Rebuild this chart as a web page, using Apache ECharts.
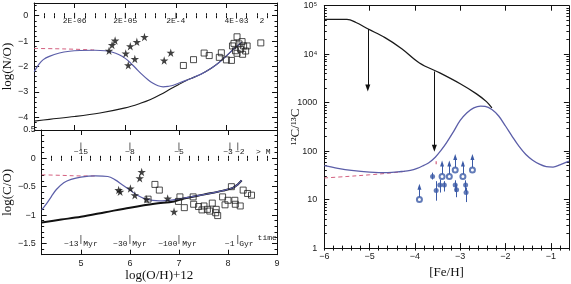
<!DOCTYPE html>
<html><head><meta charset="utf-8">
<script src="https://cdn.jsdelivr.net/npm/echarts@6/dist/echarts.min.js"></script>
<style>html,body{margin:0;padding:0;background:#fff}#c{width:571px;height:284px}</style>
</head><body><div id="c"></div>
<script>
// ================= DATA =================
// Top-left panel: log(N/O) vs log(O/H)+12
const noBlackX = [4.2,4.5,5.0,5.5,6.0,6.3,6.5,6.7,6.9,7.05,7.2,7.3,7.5,7.7,7.85,8.0,8.15,8.3];
const noBlackY = [-4.15,-4.08,-3.97,-3.83,-3.63,-3.45,-3.3,-3.1,-2.88,-2.72,-2.56,-2.47,-2.3,-2.07,-1.85,-1.58,-1.3,-1.05];
const noBlueX = [4.2,4.3,4.38,4.5,4.7,4.9,5.1,5.4,5.6,5.75,5.87,6.0,6.1,6.2,6.33,6.45,6.55,6.65,6.75,6.85,6.95,7.1,7.3,7.5,7.7,7.85,8.0,8.15,8.3];
const noBlueY = [-2.2,-1.9,-1.73,-1.6,-1.47,-1.4,-1.37,-1.36,-1.38,-1.44,-1.53,-1.68,-1.85,-2.05,-2.31,-2.52,-2.66,-2.76,-2.8,-2.78,-2.74,-2.62,-2.47,-2.3,-2.07,-1.85,-1.58,-1.3,-1.05];
const noRedX = [4.2,4.6,5.0,5.4];
const noRedY = [-1.29,-1.3,-1.32,-1.35];
const noStarX = [5.68,5.74,5.8,6.01,6.06,6.1,6.19,6.23,6.38,6.77,6.9];
const noStarY = [-1.38,-1.15,-0.98,-1.49,-1.95,-1.2,-1.7,-1.03,-0.84,-1.76,-1.46];
const noSqX = [7.15,7.35,7.56,7.66,7.86,7.9,8.0,8.1,8.12,8.15,8.18,8.21,8.21,8.25,8.28,8.31,8.32,8.34,8.38,8.41,8.68];
const noSqY = [-1.96,-1.73,-1.47,-1.57,-1.64,-1.46,-1.74,-1.76,-1.19,-1.09,-1.38,-0.83,-1.48,-1.11,-1.32,-1.02,-1.52,-1.19,-1.39,-1.19,-1.07];
const zLabels = ['2E-06','2E-05','2E-4','4E-03','2'];
const zLabelX = [5.0,6.0,7.0,8.2,8.7];
const zTickX = [5.0,6.0,7.0,8.2];

// Bottom-left panel: log(C/O) vs log(O/H)+12
const coBlackX = [4.2,4.6,5.0,5.5,6.0,6.5,6.9,7.1,7.5,7.9,8.1,8.2,8.28];
const coBlackY = [-1.13,-1.08,-1.03,-0.95,-0.87,-0.8,-0.76,-0.71,-0.64,-0.57,-0.52,-0.46,-0.39];
const coBlueX = [4.2,4.3,4.4,4.5,4.65,4.8,5.0,5.3,5.55,5.7,5.85,6.0,6.15,6.33,6.6,6.9,7.1,7.5,7.9,8.1,8.2,8.28];
const coBlueY = [-0.91,-0.8,-0.67,-0.55,-0.43,-0.37,-0.33,-0.31,-0.32,-0.38,-0.47,-0.56,-0.65,-0.72,-0.75,-0.73,-0.7,-0.64,-0.57,-0.52,-0.46,-0.39];
const coRedX = [4.2,4.6,5.0,5.3];
const coRedY = [-0.29,-0.3,-0.31,-0.31];
const coStarX = [5.77,5.8,6.01,6.1,6.2,6.24,6.34,6.77,6.9];
const coStarY = [-0.56,-0.59,-0.53,-0.65,-0.35,-0.24,-0.72,-0.71,-0.94];
const coSqX = [6.37,6.51,6.6,7.02,6.99,7.11,7.29,7.3,7.4,7.47,7.51,7.58,7.63,7.68,7.76,7.75,7.79,7.89,7.94,8.0,8.07,8.14,8.15,8.25,8.31,8.4,8.48];
const coSqY = [-0.72,-0.46,-0.56,-0.68,-0.76,-0.87,-0.68,-0.81,-0.85,-0.91,-0.84,-0.9,-0.93,-0.79,-0.9,-0.96,-1.01,-0.68,-0.82,-0.74,-0.5,-0.74,-0.81,-0.84,-0.56,-0.62,-0.65];
const massLabels = ['~15','~8','~5','~3','~2','> M'];
const massLabelX = [5.0,6.0,7.0,8.0,8.24,8.72];
const massTickX = [5.0,6.0,7.0,8.04,8.2];
const timeLabels = ['~13 Myr','~30 Myr','~100 Myr','~1 Gyr'];
const timeLabelX = [5.0,6.0,6.97,8.23];
const timeTickX = [5.0,6.0,7.0,8.2];

// Right panel: 12C/13C vs [Fe/H]
const fehBlackX = [-6,-5.5,-5.3,-5.03,-4.66,-4.29,-3.9,-3.45,-3.0,-2.64,-2.42,-2.3];
const fehBlackY = [52000,52000,45000,33000,22000,13000,6600,4100,2450,1520,1050,780];
const fehBlueX = [-6,-5.7,-5.4,-5.0,-4.6,-4.3,-4.1,-3.95,-3.8,-3.7,-3.55,-3.42,-3.3,-3.15,-3.0,-2.85,-2.7,-2.55,-2.45,-2.3,-2.15,-2.0,-1.85,-1.7,-1.55,-1.4,-1.25,-1.1,-0.95,-0.8,-0.6];
const fehBlueY = [50,44,40,37,36,38,40,44,51,57,75,105,150,250,430,620,780,850,840,720,530,330,200,125,85,65,54,48,47,52,62];
const fehRedX = [-6,-5.5,-5.0,-4.6,-4.3,-4.15];
const fehRedY = [28,30,32.5,35,37.5,39];
const arrowX = [-5.04,-3.57];
const arrowFrom = [33000,4400];
const arrowTo = [2000,115];
const limX = [-3.9,-3.4,-3.24,-3.11,-2.94,-2.73];
const limY = [10,30,30,41,30,41];
const obsX = [-3.61,-3.53,-3.45,-3.35,-3.11,-3.08,-2.88,-2.87];
const obsY = [30,15.5,20,20,20,16,20,14];
const obsLo = [26,9.5,14,14.7,14.5,11.2,15,8.9];
const obsHi = [36,24,26,24,25,20.6,25,17.7];
const redMarkX = [-3.53,-3.53];
const redMarkY = [62,49];

// Tick labels
const ohTicks = [5,6,7,8,9];
const noTicks = [0,-1,-2,-3,-4];
const coTicks = [0.5,0,-0.5,-1,-1.5];
const fehTicks = [-6,-5,-4,-3,-2,-1];
const ratioTickExp = [0,1,2,3,4,5];
const ratioTickLabels = ['1','10','100','1000','10⁴','10⁵'];

// ================= BUILD =================
const zip = (a, b) => a.map((v, i) => [v, b[i]]);
const steps = (a, b, s) => { const r = []; const n = Math.round((b - a) / s); for (let i = 0; i <= n; i++) r.push(Math.round((a + i * s) * 1e6) / 1e6); return r; };
const minus = v => String(v).replace('-', '\u2212');
const AX = '#111';
const tickFont = {fontSize: 9, fontFamily: 'Liberation Sans', color: '#222'};
const nameFont = {fontSize: 13, fontFamily: 'Liberation Serif', color: '#111'};

const xAxis = [], yAxis = [];
function group(list, isX, gridIndex, o) {
  const pm = isX ? 'bottom' : 'left', po = isX ? 'top' : 'right';
  const base = {gridIndex, type: 'value', min: o.min, max: o.max, splitLine: {show: false}};
  const idx = list.length;
  list.push(Object.assign({}, base, {
    position: pm,
    axisLine: {show: true, onZero: false, lineStyle: {color: AX, width: 1}},
    axisTick: {show: true, inside: true, length: 5, customValues: o.majors, lineStyle: {color: AX}},
    axisLabel: o.labels ? Object.assign({show: true, customValues: o.labels, formatter: o.fmt || minus, margin: o.margin}, tickFont) : {show: false},
    name: o.name || '', nameLocation: 'middle', nameGap: o.nameGap || 0, nameTextStyle: nameFont
  }));
  list.push(Object.assign({}, base, {position: pm, axisLine: {show: false}, axisLabel: {show: false},
    axisTick: {show: true, inside: true, length: 2.5, customValues: o.minors, lineStyle: {color: AX}}}));
  list.push(Object.assign({}, base, {position: po, axisLine: {show: true, onZero: false, lineStyle: {color: AX, width: 1}}, axisLabel: {show: false},
    axisTick: {show: true, inside: true, length: 5, customValues: o.majors, lineStyle: {color: AX}}}));
  list.push(Object.assign({}, base, {position: po, axisLine: {show: false}, axisLabel: {show: false},
    axisTick: {show: true, inside: true, length: 2.5, customValues: o.minors, lineStyle: {color: AX}}}));
  return idx;
}

// grid 0: N/O
const gx0 = group(xAxis, true, 0, {min: 4.2, max: 9, majors: [5,6,7,8,9], minors: steps(4.2, 9, 0.2)});
const gy0 = group(yAxis, false, 0, {min: -4.5, max: 0.5, majors: [0,-1,-2,-3,-4], minors: steps(-4.4, 0.4, 0.2), labels: noTicks, margin: 6, name: 'log(N/O)', nameGap: 18});
// grid 1: C/O
const gx1 = group(xAxis, true, 1, {min: 4.2, max: 9, majors: [5,6,7,8,9], minors: steps(4.2, 9, 0.2), labels: ohTicks, margin: 4, name: 'log(O/H)+12', nameGap: 13});
const gy1 = group(yAxis, false, 1, {min: -1.7, max: 0.5, majors: [0.5,0,-0.5,-1,-1.5], minors: steps(-1.7, 0.5, 0.1), labels: coTicks, margin: 6, name: 'log(C/O)', nameGap: 21});
// grid 2: 12C/13C
const gx2 = group(xAxis, true, 2, {min: -6, max: -0.6, majors: [-6,-5,-4,-3,-2,-1], minors: steps(-6, -0.6, 0.2), labels: fehTicks, margin: 4, name: '[Fe/H]', nameGap: 13});
// log data axis
const gy2 = yAxis.length;
yAxis.push({gridIndex: 2, type: 'log', logBase: 10, min: 1, max: 100000, position: 'left',
  axisLine: {show: true, onZero: false, lineStyle: {color: AX, width: 1}}, axisTick: {show: false}, axisLabel: {show: false}, splitLine: {show: false},
  name: '¹²C/¹³C', nameLocation: 'middle', nameGap: 22, nameTextStyle: nameFont});
const logMinors = [];
for (let e = 0; e < 5; e++) for (let k = 2; k <= 9; k++) logMinors.push(Math.log10(k * Math.pow(10, e)));
group(yAxis, false, 2, {min: 0, max: 5, majors: ratioTickExp, minors: logMinors, labels: ratioTickExp, margin: 7, fmt: v => ratioTickLabels[Math.round(v)]});

const BLUE = '#5b5ea8', RED = '#d4607f', PT = '#3b5aa6';
const STAR = 'path://M50,0 L61,35 L98,35 L68,57 L79,91 L50,70 L21,91 L32,57 L2,35 L39,35 Z';
const lineS = (xi, yi, x, y, color, width, dash) => ({type: 'line', xAxisIndex: xi, yAxisIndex: yi, data: zip(x, y), symbol: 'none', smooth: 0.35,
  lineStyle: {color, width, type: dash ? [4, 3] : 'solid'}, z: 3});
const textS = (xi, yi, xs, y, labels) => ({type: 'scatter', xAxisIndex: xi, yAxisIndex: yi, symbol: 'circle', symbolSize: 1, itemStyle: {opacity: 0},
  data: xs.map((x, i) => [x, y, labels[i]]),
  label: {show: true, position: 'inside', formatter: p => p.data[2], fontSize: 8, fontFamily: 'Liberation Mono', color: '#222', opacity: 1}});
const tickS = (xi, yi, xs, y, h) => ({type: 'scatter', xAxisIndex: xi, yAxisIndex: yi, symbol: 'rect', symbolSize: [0.9, h],
  data: xs.map(x => [x, y]), itemStyle: {color: '#222'}});
const SQ = {color: 'rgba(255,255,255,0)', borderColor: '#222', borderWidth: 1};

const series = [
  // grid 0
  lineS(gx0, gy0, noBlackX, noBlackY, '#1a1a1a', 1.1),
  lineS(gx0, gy0, noRedX, noRedY, RED, 1, true),
  lineS(gx0, gy0, noBlueX, noBlueY, BLUE, 1.2),
  {type: 'scatter', xAxisIndex: gx0, yAxisIndex: gy0, symbol: STAR, symbolSize: 8.5, data: zip(noStarX, noStarY), itemStyle: {color: '#111'}, z: 4},
  {type: 'scatter', xAxisIndex: gx0, yAxisIndex: gy0, symbol: 'rect', symbolSize: 6, data: zip(noSqX, noSqY), itemStyle: SQ, z: 4},
  tickS(gx0, gy0, zTickX, 0.0, 6),
  textS(gx0, gy0, zLabelX, -0.2, zLabels),
  // grid 1
  lineS(gx1, gy1, coBlackX, coBlackY, '#111', 2),
  lineS(gx1, gy1, coRedX, coRedY, RED, 1, true),
  lineS(gx1, gy1, coBlueX, coBlueY, BLUE, 1.2),
  {type: 'scatter', xAxisIndex: gx1, yAxisIndex: gy1, symbol: STAR, symbolSize: 8.5, data: zip(coStarX, coStarY), itemStyle: {color: '#111'}, z: 4},
  {type: 'scatter', xAxisIndex: gx1, yAxisIndex: gy1, symbol: 'rect', symbolSize: 6, data: zip(coSqX, coSqY), itemStyle: SQ, z: 4},
  tickS(gx1, gy1, massTickX, 0.21, 8),
  textS(gx1, gy1, massLabelX, 0.12, massLabels),
  tickS(gx1, gy1, timeTickX, -1.43, 9),
  textS(gx1, gy1, timeLabelX, -1.51, timeLabels),
  textS(gx1, gy1, [8.8], -1.41, ['time']),
  // grid 2
  Object.assign(lineS(gx2, gy2, fehBlackX, fehBlackY, '#1a1a1a', 1.3), {
    markLine: {silent: true, symbol: ['none', 'triangle'], symbolSize: [5, 7], label: {show: false},
      lineStyle: {color: '#111', width: 1, type: 'solid'},
      data: arrowX.map((x, i) => [{coord: [x, arrowFrom[i]]}, {coord: [x, arrowTo[i]]}])}}),
  lineS(gx2, gy2, fehRedX, fehRedY, RED, 1, true),
  lineS(gx2, gy2, fehBlueX, fehBlueY, BLUE, 1.3),
  {type: 'line', xAxisIndex: gx2, yAxisIndex: gy2, data: zip(redMarkX, redMarkY), symbol: 'none', lineStyle: {color: RED, width: 1.2, type: [3, 2]}, z: 5},
  {type: 'scatter', xAxisIndex: gx2, yAxisIndex: gy2, symbol: 'emptyCircle', symbolSize: 5, data: zip(limX, limY), itemStyle: {color: PT, borderWidth: 1}, z: 4,
    markLine: {silent: true, symbol: ['none', 'triangle'], symbolSize: [4, 6], label: {show: false},
      lineStyle: {color: PT, width: 1, type: 'solid'},
      data: limX.map((x, i) => [{coord: [x, limY[i] * 1.13]}, {coord: [x, limY[i] * 1.85]}])}},
  {type: 'scatter', xAxisIndex: gx2, yAxisIndex: gy2, symbol: 'circle', symbolSize: 5, data: zip(obsX, obsY), itemStyle: {color: PT}, z: 4,
    markLine: {silent: true, symbol: ['none', 'none'], label: {show: false},
      lineStyle: {color: PT, width: 1, type: 'solid'},
      data: obsX.map((x, i) => [{coord: [x, obsLo[i]]}, {coord: [x, obsHi[i]]}])}}
];

const chart = echarts.init(document.getElementById('c'), null, {renderer: 'canvas'});
chart.setOption({
  animation: false,
  backgroundColor: '#fff',
  grid: [
    {left: 31, top: 3, width: 246, height: 127},
    {left: 31, top: 130, width: 246, height: 124.7},
    {left: 324.3, top: 5.7, width: 244.6, height: 250}
  ],
  xAxis, yAxis, series
});
</script></body></html>
